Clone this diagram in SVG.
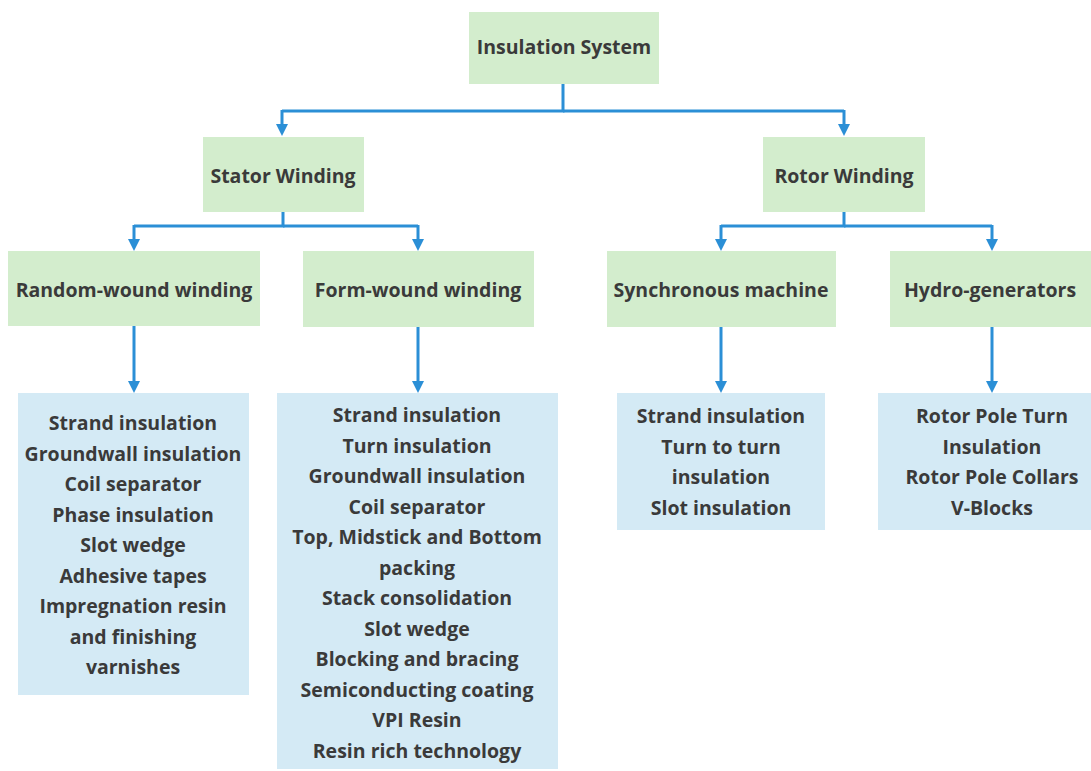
<svg xmlns="http://www.w3.org/2000/svg" width="1091" height="771" viewBox="0 0 1091 771">
<style>
.g{fill:#d3edcd}
.b{fill:#d4eaf5}
text{font-family:"Open Sans","Liberation Sans",sans-serif;font-weight:700;font-size:19.5px;fill:#3a3a3a;text-anchor:middle}
.c{fill:none;stroke:#2b8fd6;stroke-width:3}
.a{marker-end:url(#ah)}
</style>
<defs>
<marker id="ah" markerUnits="userSpaceOnUse" markerWidth="12" markerHeight="12" viewBox="0 0 12 12" refX="8" refY="6" orient="auto">
<path d="M0,0 L12,6 L0,12 Z" fill="#2b8fd6"/>
</marker>
</defs>
<rect width="1091" height="771" fill="#ffffff"/>
<g id="connectors">
<path class="c" d="M563,84 V111 H282"/>
<path class="c" d="M563,111 H844"/>
<path class="c a" d="M282,110 V132"/>
<path class="c a" d="M844,110 V132"/>
<path class="c" d="M283,212 V226 H134"/>
<path class="c" d="M283,226 H418"/>
<path class="c" d="M844,212 V226 H721"/>
<path class="c" d="M844,226 H992"/>
<path class="c a" d="M134,225 V247"/>
<path class="c a" d="M418,225 V247"/>
<path class="c a" d="M721,225 V247"/>
<path class="c a" d="M992,225 V247"/>
<path class="c a" d="M134,326 V389"/>
<path class="c a" d="M418,327 V389"/>
<path class="c a" d="M721,327 V389"/>
<path class="c a" d="M992,327 V389"/>
</g>
<g id="n-insulation-system"><rect class="g" x="469" y="12" width="190" height="72"/><text x="564" y="54">Insulation System</text></g>
<g id="n-stator-winding"><rect class="g" x="203" y="137" width="161" height="75"/><text x="283" y="183">Stator Winding</text></g>
<g id="n-rotor-winding"><rect class="g" x="763" y="137" width="162" height="75"/><text x="844" y="183">Rotor Winding</text></g>
<g id="n-random-wound"><rect class="g" x="8" y="251" width="252" height="75"/><text x="134" y="297">Random-wound winding</text></g>
<g id="n-form-wound"><rect class="g" x="303" y="251" width="231" height="76"/><text x="418" y="297">Form-wound winding</text></g>
<g id="n-synchronous"><rect class="g" x="607" y="251" width="229" height="76"/><text x="721" y="297">Synchronous machine</text></g>
<g id="n-hydro"><rect class="g" x="890" y="251" width="201" height="76"/><text x="990" y="297">Hydro-generators</text></g>
<g id="n-random-list"><rect class="b" x="18" y="393" width="231" height="302"/>
<text x="133" y="430">Strand insulation</text>
<text x="133" y="460.5">Groundwall insulation</text>
<text x="133" y="491">Coil separator</text>
<text x="133" y="521.5">Phase insulation</text>
<text x="133" y="552">Slot wedge</text>
<text x="133" y="582.5">Adhesive tapes</text>
<text x="133" y="613">Impregnation resin</text>
<text x="133" y="643.5">and finishing</text>
<text x="133" y="674">varnishes</text>
</g>
<g id="n-form-list"><rect class="b" x="277" y="393" width="281" height="376"/>
<text x="417" y="422">Strand insulation</text>
<text x="417" y="452.5">Turn insulation</text>
<text x="417" y="483">Groundwall insulation</text>
<text x="417" y="513.5">Coil separator</text>
<text x="417" y="544">Top, Midstick and Bottom</text>
<text x="417" y="574.5">packing</text>
<text x="417" y="605">Stack consolidation</text>
<text x="417" y="635.5">Slot wedge</text>
<text x="417" y="666">Blocking and bracing</text>
<text x="417" y="696.5">Semiconducting coating</text>
<text x="417" y="727">VPI Resin</text>
<text x="417" y="757.5">Resin rich technology</text>
</g>
<g id="n-sync-list"><rect class="b" x="617" y="393" width="208" height="137"/>
<text x="721" y="423">Strand insulation</text>
<text x="721" y="453.5">Turn to turn</text>
<text x="721" y="484">insulation</text>
<text x="721" y="514.5">Slot insulation</text>
</g>
<g id="n-hydro-list"><rect class="b" x="878" y="393" width="213" height="137"/>
<text x="992" y="423">Rotor Pole Turn</text>
<text x="992" y="453.5">Insulation</text>
<text x="992" y="484">Rotor Pole Collars</text>
<text x="992" y="514.5">V-Blocks</text>
</g>
</svg>
